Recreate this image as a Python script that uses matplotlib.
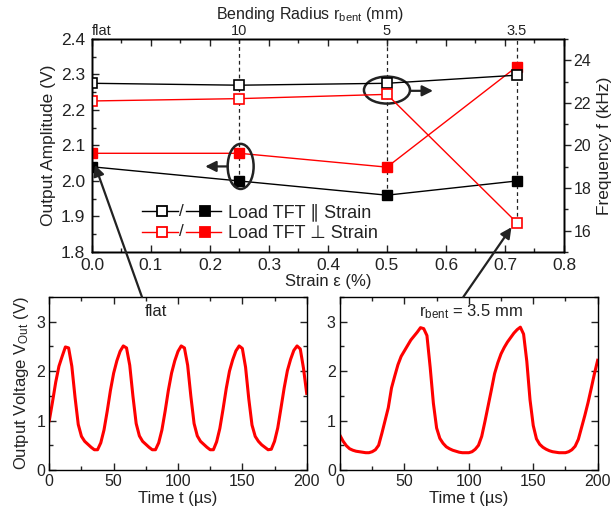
import numpy as np
import matplotlib
matplotlib.use("Agg")
import matplotlib.pyplot as plt
from matplotlib.patches import Ellipse, ConnectionPatch, FancyArrowPatch
from matplotlib.lines import Line2D
from matplotlib.text import Text
from matplotlib.legend_handler import HandlerBase
from matplotlib.ticker import MultipleLocator, FormatStrFormatter

plt.rcParams["font.family"] = ["Liberation Sans", "DejaVu Sans"]
plt.rcParams["mathtext.fontset"] = "custom"
plt.rcParams["mathtext.rm"] = "Liberation Sans"
plt.rcParams["mathtext.it"] = "Liberation Sans:italic"
plt.rcParams["text.color"] = "#222222"
plt.rcParams["axes.labelcolor"] = "#222222"
plt.rcParams["xtick.color"] = "#222222"
plt.rcParams["ytick.color"] = "#222222"
plt.rcParams["axes.linewidth"] = 1.0

# ---- strain sweep data ----
strain = [0.0, 0.25, 0.5, 0.72]
radius_labels = ["flat", "10", "5", "3.5"]
amp_par = [2.04, 2.00, 1.96, 2.00]          # output amplitude (V), load TFT || strain
amp_perp = [2.078, 2.078, 2.039, 2.322]     # output amplitude (V), load TFT ⊥ strain
freq_par = [22.92, 22.83, 22.92, 23.30]     # frequency (kHz), load TFT || strain
freq_perp = [22.09, 22.20, 22.40, 16.38]    # frequency (kHz), load TFT ⊥ strain

# ---- output waveforms (V) sampled every 2.5 us ----
t_us = np.arange(0, 200.01, 2.5)
v_flat = [1.00, 1.38, 1.78, 2.10, 2.30, 2.49, 2.47, 2.10, 1.47, 0.92,
          0.68, 0.58, 0.52, 0.46, 0.41, 0.41, 0.55, 0.81, 1.19, 1.61,
          1.96, 2.21, 2.40, 2.51, 2.47, 2.12, 1.49, 0.94, 0.69, 0.58,
          0.52, 0.46, 0.41, 0.41, 0.55, 0.81, 1.19, 1.61, 1.96, 2.21,
          2.40, 2.51, 2.47, 2.12, 1.49, 0.94, 0.69, 0.58, 0.52, 0.46,
          0.41, 0.41, 0.57, 0.84, 1.23, 1.65, 2.00, 2.23, 2.41, 2.51,
          2.46, 2.08, 1.44, 0.91, 0.68, 0.58, 0.51, 0.46, 0.41, 0.42,
          0.58, 0.85, 1.25, 1.66, 2.01, 2.24, 2.42, 2.51, 2.45, 2.06,
          1.55]
v_bent = [0.70, 0.58, 0.49, 0.43, 0.40, 0.38, 0.37, 0.36, 0.35, 0.35,
          0.37, 0.41, 0.50, 0.74, 1.00, 1.26, 1.66, 1.90, 2.13, 2.30,
          2.41, 2.52, 2.63, 2.71, 2.79, 2.88, 2.86, 2.72, 2.08, 1.35,
          0.85, 0.64, 0.54, 0.47, 0.43, 0.40, 0.38, 0.36, 0.35, 0.35,
          0.35, 0.37, 0.42, 0.50, 0.68, 0.98, 1.30, 1.62, 1.95, 2.17,
          2.35, 2.48, 2.59, 2.68, 2.77, 2.84, 2.89, 2.75, 2.20, 1.42,
          0.90, 0.63, 0.52, 0.46, 0.42, 0.39, 0.37, 0.36, 0.35, 0.35,
          0.35, 0.37, 0.41, 0.48, 0.62, 0.86, 1.10, 1.36, 1.65, 1.95,
          2.22]

AMP_LIM = (1.8, 2.4)
FREQ_LIM = (15, 25)
RED = "#FF0000"
INK = "#222222"


def freq_to_amp(f):
    return AMP_LIM[0] + (f - FREQ_LIM[0]) / (FREQ_LIM[1] - FREQ_LIM[0]) * (AMP_LIM[1] - AMP_LIM[0])


class PairHandler(HandlerBase):
    """Legend entry: line-open marker-line / line-filled marker-line."""

    def create_artists(self, legend, orig_handle, xdescent, ydescent,
                       width, height, fontsize, trans):
        color = orig_handle[0]
        y = height / 2.0 - ydescent
        x0 = -xdescent
        arts = []
        for a, b, m, face in [(0.0, 0.45, 0.25, "white"), (0.55, 1.0, 0.79, color)]:
            ln = Line2D([x0 + a * width, x0 + b * width], [y, y], color=color, lw=1.0)
            mk = Line2D([x0 + m * width], [y], marker="s", ms=7.5, mew=1.3,
                        mec=color, mfc=face, ls="none")
            ln.set_transform(trans)
            mk.set_transform(trans)
            arts += [ln, mk]
        tx = Text(x0 + 0.5 * width, y, "/", ha="center", va="center",
                  fontsize=fontsize * 0.95, color=INK)
        tx.set_transform(trans)
        arts.append(tx)
        return arts


fig = plt.figure(figsize=(6.14, 5.17), dpi=100)

# ---------------- top panel ----------------
ax = fig.add_axes([0.1498, 0.5126, 0.7687, 0.412])
axr = ax.twinx()
axt = ax.twiny()

ax.set_xlim(0, 0.8)
ax.set_ylim(*AMP_LIM)
axr.set_ylim(*FREQ_LIM)
axt.set_xlim(0, 0.8)

# dashed guides from the top edge down to the lowest point at each strain
low = [min(a, b, freq_to_amp(c), freq_to_amp(d))
       for a, b, c, d in zip(amp_par, amp_perp, freq_par, freq_perp)]
ax.vlines(strain[1:], low[1:], AMP_LIM[1], colors=INK, linestyles=(0, (3, 2.5)), lw=0.9, zorder=1)

ax.plot(strain, amp_par, color="black", lw=1.0, marker="s", ms=6.5, mfc="black", mec="black", zorder=3)
ax.plot(strain, amp_perp, color=RED, lw=1.0, marker="s", ms=6.5, mfc=RED, mec=RED, zorder=3)
axr.plot(strain, freq_par, color="black", lw=1.0, marker="s", ms=6.5, mfc="white", mec="black", mew=1.2, zorder=3)
axr.plot(strain, freq_perp, color=RED, lw=1.0, marker="s", ms=6.5, mfc="white", mec=RED, mew=1.2, zorder=3)

ax.xaxis.set_major_locator(MultipleLocator(0.1))
ax.xaxis.set_minor_locator(MultipleLocator(0.05))
ax.xaxis.set_major_formatter(FormatStrFormatter("%.1f"))
ax.yaxis.set_major_locator(MultipleLocator(0.1))
ax.yaxis.set_minor_locator(MultipleLocator(0.05))
ax.yaxis.set_major_formatter(FormatStrFormatter("%.1f"))
ax.tick_params(which="both", direction="in", top=True, right=False, labelsize=12.5, width=1.0)
ax.tick_params(which="major", length=5)
ax.tick_params(which="minor", length=3)
ax.tick_params(axis="x", pad=4)
ax.tick_params(axis="y", pad=5)

axr.yaxis.set_major_locator(MultipleLocator(2))
axr.yaxis.set_minor_locator(MultipleLocator(1))
axr.tick_params(which="both", direction="out", labelsize=11.5, width=1.0)
axr.tick_params(which="major", length=5, pad=2)
axr.tick_params(which="minor", length=3)

axt.set_xticks(strain)
axt.set_xticklabels(radius_labels)
axt.tick_params(axis="x", length=0, pad=1, labelsize=10.5)
axt.get_xticklabels()[0].set_horizontalalignment("left")
axt.set_xlabel("Bending Radius r$_{\\mathrm{bent}}$ (mm)", fontsize=11.5, labelpad=3)
axt.xaxis.label.set_x(0.462)

ax.set_xlabel("Strain ε (%)", fontsize=12, labelpad=1)
ax.set_ylabel("Output Amplitude (V)", fontsize=12.5, labelpad=3)
axr.set_ylabel("Frequency f (kHz)", fontsize=12.5, labelpad=4)

# highlight ellipses with direction arrows toward the matching axis
ax.add_patch(Ellipse((0.5, 2.256), 0.078, 0.076, fill=False, ec=INK, lw=1.8, zorder=4))
ax.add_patch(FancyArrowPatch((0.539, 2.254), (0.578, 2.254), arrowstyle="-|>",
                             mutation_scale=16, color=INK, lw=1.6, zorder=4,
                             shrinkA=0, shrinkB=0))
ax.add_patch(Ellipse((0.252, 2.041), 0.044, 0.127, fill=False, ec=INK, lw=1.8, zorder=4))
ax.add_patch(FancyArrowPatch((0.230, 2.041), (0.192, 2.041), arrowstyle="-|>",
                             mutation_scale=16, color=INK, lw=1.6, zorder=4,
                             shrinkA=0, shrinkB=0))

leg = axt.legend(handles=[("black",), (RED,)],
                 labels=["Load TFT ∥ Strain", "Load TFT ⊥ Strain"],
                 handler_map={tuple: PairHandler()},
                 loc="center left", bbox_to_anchor=(0.106, 0.137),
                 frameon=False, fontsize=13, handlelength=4.4, handletextpad=0.35,
                 labelspacing=0.2, borderaxespad=0, borderpad=0)
for txt in leg.get_texts():
    txt.set_color(INK)

# ---------------- bottom panels ----------------
axl = fig.add_axes([0.0803, 0.0909, 0.4192, 0.3346])
axb = fig.add_axes([0.5537, 0.0909, 0.4197, 0.3346])

for a, v in [(axl, v_flat), (axb, v_bent)]:
    a.plot(t_us, v, color=RED, lw=2.2)
    a.set_xlim(0, 200)
    a.set_ylim(0, 3.5)
    a.xaxis.set_major_locator(MultipleLocator(50))
    a.xaxis.set_minor_locator(MultipleLocator(25))
    a.yaxis.set_major_locator(MultipleLocator(1))
    a.yaxis.set_minor_locator(MultipleLocator(0.5))
    a.tick_params(which="both", direction="in", top=True, right=True, labelsize=11.5, width=1.0)
    a.tick_params(which="major", length=5, pad=3)
    a.tick_params(which="minor", length=3)
    a.set_xlabel("Time t (µs)", fontsize=12, labelpad=1)

axl.set_ylabel("Output Voltage V$_{\\mathrm{Out}}$ (V)", fontsize=12, labelpad=4)
axl.text(83, 3.2, "flat", ha="center", va="center", fontsize=12)
axb.text(102, 3.2, "r$_{\\mathrm{bent}}$ = 3.5 mm", ha="center", va="center", fontsize=12)

# arrows linking each waveform to its point in the strain sweep
for src_ax, src, dst in [(axl, (72, 3.5), (0.005, 2.045)),
                         (axb, (95.7, 3.5), (0.711, freq_to_amp(16.16)))]:
    cp = ConnectionPatch(xyA=src, coordsA=src_ax.transData,
                         xyB=dst, coordsB=ax.transData,
                         arrowstyle="-|>", mutation_scale=16, color=INK, lw=1.6,
                         shrinkA=0, shrinkB=0)
    fig.add_artist(cp)

fig.savefig("out.png", dpi=100)
